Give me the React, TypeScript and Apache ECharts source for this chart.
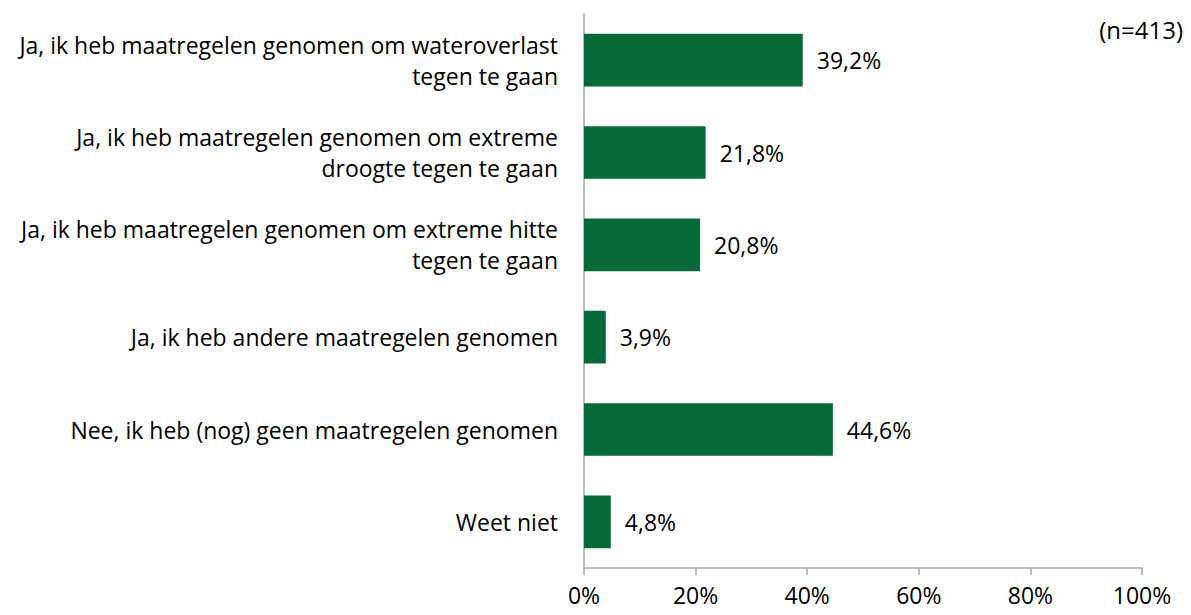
import React, { useEffect, useRef } from "react";
import * as echarts from "echarts";

const categories = [
  "Ja, ik heb maatregelen genomen om wateroverlast\ntegen te gaan",
  "Ja, ik heb maatregelen genomen om extreme\ndroogte tegen te gaan",
  "Ja, ik heb maatregelen genomen om extreme hitte\ntegen te gaan",
  "Ja, ik heb andere maatregelen genomen",
  "Nee, ik heb (nog) geen maatregelen genomen",
  "Weet niet",
];
const values = [39.2, 21.8, 20.8, 3.9, 44.6, 4.8];
const sampleNote = "(n=413)";

const FONT = "'Open Sans', sans-serif";
const FS = 23;

export default function App() {
  const ref = useRef<HTMLDivElement>(null);
  useEffect(() => {
    const chart = echarts.init(ref.current!, null, { renderer: "svg" });
    chart.setOption({
      animation: false,
      graphic: [
        {
          type: "text",
          right: 8,
          top: 17,
          style: { text: sampleNote, font: `24px ${FONT}`, fill: "#000" },
        },
      ],
      grid: { left: 584, right: 49, top: 14, bottom: 47, containLabel: false },
      xAxis: {
        type: "value",
        min: 0,
        max: 100,
        interval: 20,
        axisLine: { show: true, lineStyle: { color: "#a6a6a6", width: 1.5 } },
        axisTick: { show: true, length: 7, lineStyle: { color: "#a6a6a6", width: 1.5 } },
        splitLine: { show: false },
        axisLabel: {
          formatter: "{value}%",
          color: "#000",
          fontSize: 23,
          fontFamily: FONT,
          lineHeight: 23,
          margin: 15,
        },
      },
      yAxis: {
        type: "category",
        inverse: true,
        data: categories,
        axisLine: { show: true, lineStyle: { color: "#a6a6a6", width: 1.5 } },
        axisTick: { show: false },
        axisLabel: {
          color: "#000",
          fontSize: FS,
          fontFamily: FONT,
          lineHeight: 31,
          align: "right",
          margin: 26,
        },
      },
      series: [
        {
          type: "bar",
          data: values,
          barCategoryGap: "43%",
          itemStyle: { color: "#056a38" },
          label: {
            show: true,
            position: "right",
            distance: 14,
            color: "#000",
            fontSize: FS,
            fontFamily: FONT,
            formatter: (p: any) => p.value.toFixed(1).replace(".", ",") + "%",
          },
        },
      ],
    });
    return () => chart.dispose();
  }, []);
  return <div ref={ref} style={{ width: 1191, height: 615, margin: -8 }} />;
}
